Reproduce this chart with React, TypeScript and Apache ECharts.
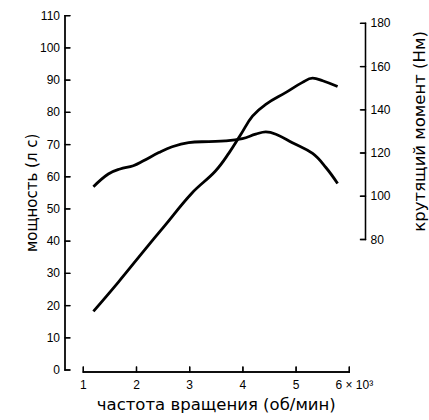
import React, { useEffect, useRef } from "react";
import * as echarts from "echarts";

const rpmTicks = [1, 2, 3, 4, 5, 6];
const powerTicks = [0, 10, 20, 30, 40, 50, 60, 70, 80, 90, 100, 110];
const torqueTicks = [80, 100, 120, 140, 160, 180];
const powerRpm = [1.19, 1.66, 2.1, 2.54, 3.04, 3.48, 3.74, 3.96, 4.18, 4.43, 4.81, 5.12, 5.31, 5.5, 5.78];
const powerValues = [18.2, 27.3, 36.2, 45.0, 54.9, 61.7, 67.4, 73.1, 78.8, 82.5, 86.2, 89.3, 90.6, 89.8, 88.0];
const torqueRpm = [1.19, 1.47, 1.69, 1.94, 2.13, 2.42, 2.67, 2.98, 3.36, 3.67, 3.99, 4.24, 4.43, 4.62, 4.93, 5.31, 5.56, 5.78];
const torqueValues = [104.4, 110.3, 112.6, 114.1, 116.4, 120.2, 122.9, 124.8, 125.3, 125.6, 126.7, 128.7, 129.8, 128.7, 124.8, 119.8, 113.3, 105.9];

const xTitle = "частота вращения (об/мин)";
const leftTitle = "мощность (л с)";
const rightTitle = "крутящий момент (Нм)";

const FONT = "'Liberation Sans', Arial, sans-serif";
const TITLE_FONT = "'DejaVu Sans', sans-serif";

const AX_L = 65;
const AX_R = 365.5;
const X0 = 83.3;
const X1 = 349.3;
const W = 429;
const H = 420;
const TICK = 5;
const AXW = 1.3;
const G0_TOP = 15.7;
const G0_BOTTOM = 372;
const first = (a: number[]) => a[0];
const last = (a: number[]) => a[a.length - 1];
const pxPerRpm = (X1 - X0) / (last(rpmTicks) - first(rpmTicks));
const wideMin = first(rpmTicks) - (X0 - AX_L) / pxPerRpm;
const wideMax = last(rpmTicks) + (AX_R - X1) / pxPerRpm;
const tickRpm = TICK / pxPerRpm;
const tickUnit = TICK / (G0_BOTTOM - G0_TOP);

// axis decorations as line series (line series are known to render)
const leftAxisData: any[] = [[wideMin, first(powerTicks)], [wideMin, last(powerTicks)]];
powerTicks.forEach((t) => leftAxisData.push("-", [wideMin, t], [wideMin + tickRpm, t]));
const rightAxisData: any[] = [[wideMax, first(torqueTicks)], [wideMax, last(torqueTicks)]];
torqueTicks.forEach((t) => rightAxisData.push("-", [wideMax - tickRpm, t], [wideMax, t]));
const bottomAxisData: any[] = [[first(rpmTicks), 0], [last(rpmTicks), 0]];
rpmTicks.forEach((t) => bottomAxisData.push("-", [t, 0], [t, tickUnit]));

const axisSeries = (xi: number, yi: number, data: any[]) => ({
  type: "line",
  xAxisIndex: xi,
  yAxisIndex: yi,
  data,
  connectNulls: false,
  showSymbol: false,
  symbol: "none",
  clip: false,
  silent: true,
  z: 3,
  lineStyle: { color: "#000", width: AXW, cap: "square" },
});

export default function App() {
  const ref = useRef<HTMLDivElement>(null);
  useEffect(() => {
    const chart = echarts.init(ref.current!, undefined, { renderer: "svg" });
    chart.setOption({
      animation: false,
      grid: [
        { left: X0, right: W - X1, top: G0_TOP, bottom: H - G0_BOTTOM, outerBoundsMode: "none" },
        { left: AX_L, right: W - AX_R, top: 15.7, bottom: H - 370, outerBoundsMode: "none" },
        { left: AX_L, right: W - AX_R, top: 23.3, bottom: H - 239.5, outerBoundsMode: "none" },
      ],
      xAxis: [
        {
          type: "value",
          gridIndex: 0,
          min: first(rpmTicks),
          max: last(rpmTicks),
          interval: 1,
          axisLine: { show: false },
          axisTick: { show: false },
          splitLine: { show: false },
          axisLabel: {
            margin: 7,
            color: "#000",
            fontFamily: FONT,
            fontSize: 12,
            formatter: (v: number) => (v === last(rpmTicks) ? `   ${v} × 10³` : `${v}`),
          },
          name: xTitle,
          nameLocation: "middle",
          nameGap: 24,
          nameMoveOverlap: false,
          nameTextStyle: { color: "#000", fontFamily: TITLE_FONT, fontSize: 16.5 },
        },
        { type: "value", gridIndex: 1, min: wideMin, max: wideMax, show: false },
        { type: "value", gridIndex: 2, min: wideMin, max: wideMax, show: false },
      ],
      yAxis: [
        { type: "value", gridIndex: 0, min: 0, max: 1, show: false },
        {
          type: "value",
          gridIndex: 1,
          min: first(powerTicks),
          max: last(powerTicks),
          interval: 10,
          position: "left",
          axisLine: { show: false },
          axisTick: { show: false },
          splitLine: { show: false },
          axisLabel: { margin: 5, color: "#000", fontFamily: FONT, fontSize: 12 },
          name: leftTitle,
          nameLocation: "middle",
          nameRotate: 90,
          nameGap: 26,
          nameMoveOverlap: false,
          nameTextStyle: { color: "#000", fontFamily: TITLE_FONT, fontSize: 15 },
        },
        {
          type: "value",
          gridIndex: 2,
          min: first(torqueTicks),
          max: last(torqueTicks),
          interval: 20,
          position: "right",
          axisLine: { show: false },
          axisTick: { show: false },
          splitLine: { show: false },
          axisLabel: { margin: 5, color: "#000", fontFamily: FONT, fontSize: 12 },
          name: rightTitle,
          nameLocation: "middle",
          nameRotate: 90,
          nameGap: 45,
          nameMoveOverlap: false,
          nameTextStyle: { color: "#000", fontFamily: TITLE_FONT, fontSize: 16.5 },
        },
      ],
      series: [
        {
          type: "line",
          xAxisIndex: 1,
          yAxisIndex: 1,
          data: powerRpm.map((x, i) => [x, powerValues[i]]),
          smooth: 0.4,
          showSymbol: false,
          lineStyle: { color: "#000", width: 2.8 },
          silent: true,
        },
        {
          type: "line",
          xAxisIndex: 2,
          yAxisIndex: 2,
          data: torqueRpm.map((x, i) => [x, torqueValues[i]]),
          smooth: 0.4,
          showSymbol: false,
          lineStyle: { color: "#000", width: 2.8 },
          silent: true,
        },
        axisSeries(1, 1, leftAxisData),
        axisSeries(2, 2, rightAxisData),
        axisSeries(0, 0, bottomAxisData),
      ],
    });

    // also draw the axes as thin filled rectangles, placed through the chart's scales
    try {
      const px = (finder: object, v: number): number => {
        const r = chart.convertToPixel(finder as any, v) as any;
        return Array.isArray(r) ? Number(r[0]) : Number(r);
      };
      const h = AXW / 2;
      const rects: any[] = [];
      const rect = (x: number, y: number, w: number, hh: number) =>
        rects.push({ type: "rect", z: 100, silent: true, shape: { x, y, width: w, height: hh }, style: { fill: "#000" } });
      const lx = px({ xAxisIndex: 1 }, wideMin);
      const ly = powerTicks.map((t) => px({ yAxisIndex: 1 }, t));
      rect(lx - h, Math.min(...ly) - h, AXW, Math.max(...ly) - Math.min(...ly) + AXW);
      ly.forEach((y) => rect(lx - h, y - h, TICK + h, AXW));
      const rx = px({ xAxisIndex: 2 }, wideMax);
      const ry = torqueTicks.map((t) => px({ yAxisIndex: 2 }, t));
      rect(rx - h, Math.min(...ry) - h, AXW, Math.max(...ry) - Math.min(...ry) + AXW);
      ry.forEach((y) => rect(rx - TICK, y - h, TICK + h, AXW));
      const by = px({ yAxisIndex: 0 }, 0);
      const bx = rpmTicks.map((t) => px({ xAxisIndex: 0 }, t));
      rect(Math.min(...bx) - h, by - h, Math.max(...bx) - Math.min(...bx) + AXW, AXW);
      bx.forEach((x) => rect(x - h, by - TICK, AXW, TICK + h));
      chart.setOption({ graphic: { elements: rects } });
    } catch (e) {
      // keep the chart even if the overlay fails
    }
    return () => chart.dispose();
  }, []);
  return (
    <div
      ref={ref}
      style={{ position: "fixed", left: 0, top: 0, width: W, height: H, background: "#fff" }}
    />
  );
}
